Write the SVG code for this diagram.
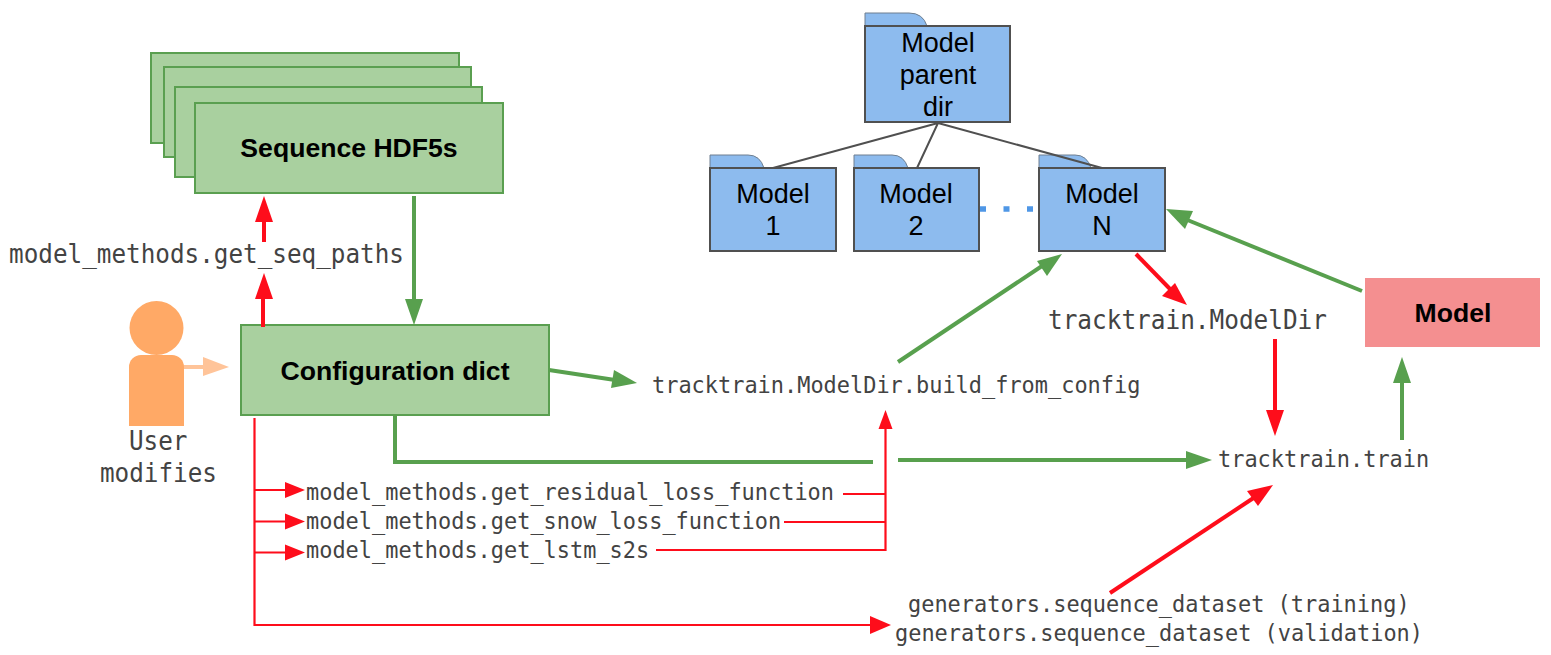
<svg xmlns="http://www.w3.org/2000/svg" width="1551" height="655" viewBox="0 0 1551 655">
<style>
.g{fill:#a9d09f;stroke:#5a9f50;stroke-width:2}
.f{fill:#8dbbee;stroke:#505050;stroke-width:2}
.t{fill:#8dbbee;stroke:#6f7f90;stroke-width:1}
.m{font-family:"DejaVu Sans Mono",monospace;font-size:23.5px;fill:#434343}
.l{font-size:26px}
.s{font-family:"Liberation Sans",Arial,sans-serif;font-size:27px;fill:#000;text-anchor:middle}
.b{font-family:"Liberation Sans",Arial,sans-serif;font-size:26.6px;font-weight:bold;fill:#000;text-anchor:middle}
.lg{fill:none;stroke:#58a04e;stroke-width:4}
.lr{fill:none;stroke:#fe0d1b;stroke-width:4}
.lt{fill:none;stroke:#fe0d1b;stroke-width:2.200}
.ar{fill:#fe0d1b}.ag{fill:#58a04e}
</style>
<g id="seq-stack">
<rect class="g" x="151" y="53" width="308" height="90"/>
<rect class="g" x="164" y="67" width="307" height="90"/>
<rect class="g" x="175" y="87" width="307" height="90"/>
</g>
<g id="seq"><rect class="g" x="195" y="103" width="308" height="90"/><text class="b" x="349" y="157">Sequence HDF5s</text></g>
<g id="config"><rect class="g" x="241" y="325" width="308" height="90"/><text class="b" x="395" y="380">Configuration dict</text></g>
<g id="user"><circle cx="156.500" cy="328" r="27" fill="#ffa966"/><path d="M129 426V367a12 12 0 0 1 12-12h31a12 12 0 0 1 12 12v59z" fill="#ffa966"/></g>
<g id="model"><rect x="1365" y="278" width="175" height="69" fill="#f48f90"/><text class="b" x="1453" y="322">Model</text></g>
<g id="parent"><path class="t" d="M865 26V13h44q14 0 18 13z"/><rect class="f" x="865" y="26" width="145" height="96"/><text class="s" x="938" y="52">Model</text><text class="s" x="938" y="84">parent</text><text class="s" x="938" y="116">dir</text></g>
<g id="model1"><path class="t" d="M710 168V155h38q12 0 16 13z"/><rect class="f" x="710" y="168" width="126" height="83"/><text class="s" x="773" y="203">Model</text><text class="s" x="773" y="235">1</text></g>
<g id="model2"><path class="t" d="M854 168V155h38q12 0 16 13z"/><rect class="f" x="854" y="168" width="125" height="83"/><text class="s" x="916" y="203">Model</text><text class="s" x="916" y="235">2</text></g>
<g id="modelN"><path class="t" d="M1039 168V155h36q12 0 16 13z"/><rect class="f" x="1039" y="168" width="126" height="83"/><text class="s" x="1102" y="203">Model</text><text class="s" x="1102" y="235">N</text></g>
<g id="connectors">
<path d="M938 123L773 168M938 123L917 168M938 123L1102 168" fill="none" stroke="#505050" stroke-width="2"/>
<path d="M980 209H1034" stroke="#4f97e6" stroke-width="5.500" stroke-dasharray="6 17.500" fill="none"/>
<path class="lr" d="M264 242V218"/><path class="ar" d="M264 196l9 26h-18z"/>
<path class="lr" d="M263 327V295"/><path class="ar" d="M264 273l9 26h-18z"/>
<path class="lg" d="M414 196V305"/><path class="ag" d="M414 325l-9-26h18z"/>
<path d="M184 367H206" stroke="#ffc499" stroke-width="4" fill="none"/><path d="M229 367l-26 -10v19z" fill="#ffc499"/>
<path class="lg" d="M549 370L615 380"/><path class="ag" d="M637 383l-26 5 3-18z"/>
<path class="lg" d="M395 415V462H873M898 460H1190"/><path class="ag" d="M1212 460l-26-9v18z"/>
<path class="lg" d="M898 362L1045 264"/><path class="ag" d="M1062 254l-15 22-10-15z"/>
<path class="lg" d="M1362 291L1185 219"/><path class="ag" d="M1166 209l27 2-8 18z"/>
<path class="lg" d="M1402 440V380"/><path class="ag" d="M1402 357l9 26h-18z"/>
<path class="lr" d="M1136 254L1170 289"/><path class="ar" d="M1187 305l-25-9 13-13z"/>
<path class="lr" d="M1275 339V415"/><path class="ar" d="M1275 436l-9-26h18z"/>
<path class="lr" d="M1110 593L1255 497"/><path class="ar" d="M1273 485l-15 21-11-15z"/>
<path class="lt" d="M254.500 418V625H870"/><path class="ar" d="M891 625l-21-9v18z"/>
<path class="lt" d="M254.500 490H287M254.500 521.500H287M254.500 552.500H287"/>
<path class="ar" d="M305 490l-20-8v16zM305 521.500l-20-8v16zM305 552.500l-20-8v16z"/>
<path class="lt" d="M843 494H885.500M784 522H885.500M656 550H885.500V425"/><path class="ar" d="M885.500 410l7 19h-14z"/>
</g>
<g id="labels">
<text class="m l" x="9" y="263" textLength="395" lengthAdjust="spacingAndGlyphs">model_methods.get_seq_paths</text>
<text class="m l" x="129" y="450" textLength="58.500" lengthAdjust="spacingAndGlyphs">User</text>
<text class="m l" x="100" y="482" textLength="117" lengthAdjust="spacingAndGlyphs">modifies</text>
<text class="m" x="652" y="393" textLength="488.400" lengthAdjust="spacingAndGlyphs">tracktrain.ModelDir.build_from_config</text>
<text class="m l" x="1048" y="329" textLength="279" lengthAdjust="spacingAndGlyphs">tracktrain.ModelDir</text>
<text class="m" x="1218" y="467" textLength="211.200" lengthAdjust="spacingAndGlyphs">tracktrain.train</text>
<text class="m" x="306" y="500" textLength="528" lengthAdjust="spacingAndGlyphs">model_methods.get_residual_loss_function</text>
<text class="m" x="306" y="529" textLength="475.200" lengthAdjust="spacingAndGlyphs">model_methods.get_snow_loss_function</text>
<text class="m" x="306" y="558" textLength="343.200" lengthAdjust="spacingAndGlyphs">model_methods.get_lstm_s2s</text>
<text class="m" x="908" y="612" textLength="501.600" lengthAdjust="spacingAndGlyphs">generators.sequence_dataset (training)</text>
<text class="m" x="895" y="641" textLength="528" lengthAdjust="spacingAndGlyphs">generators.sequence_dataset (validation)</text>
</g>
</svg>
